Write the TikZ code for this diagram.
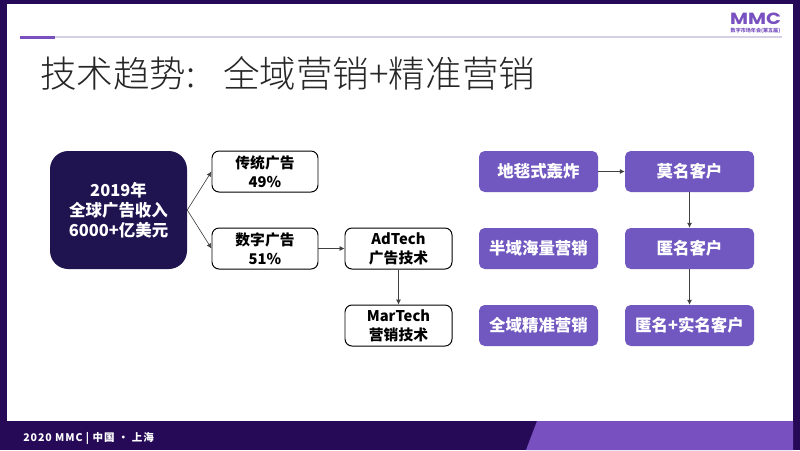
\documentclass[tikz,border=0pt]{standalone}
\usepackage{fontspec}
\setmainfont{Noto Sans CJK SC}
\newfontfamily\titlefont[UprightFont={* Light}]{Noto Sans CJK SC}
\newfontfamily\logofont{Poppins}
\newfontfamily\footfont[LetterSpace=9]{Noto Sans CJK SC}
\usetikzlibrary{arrows.meta}
\definecolor{darkpurple}{HTML}{260A58}
\definecolor{navybox}{HTML}{1F1450}
\definecolor{midpurple}{HTML}{7950C0}
\definecolor{boxpurple}{HTML}{7058C0}
\definecolor{rulegray}{HTML}{D5CFE5}
\tikzset{
  whitebox/.style={draw=black,line width=.7pt,fill=white,rounded corners=5,align=center,text=black,inner sep=0,font=\fontsize{10.5}{13.5}\selectfont\bfseries},
  purplebox/.style={fill=boxpurple,rounded corners=4,align=center,text=white,inner sep=0,font=\fontsize{11.7}{14}\selectfont\bfseries},
  conn/.style={draw=black!75,line width=.45pt,arrows={-{Latex[length=3.5pt,width=3.5pt]}}}
}
\begin{document}
\begin{tikzpicture}[x=0.025cm,y=-0.025cm]

\useasboundingbox (0,0) rectangle (800,450);

\fill [darkpurple] (0,0) rectangle (800,450);
\fill [white] (7,4) rectangle (793,421);
\fill [midpurple] (537,421) -- (793,421) -- (793,450) -- (526,450) -- cycle;

\fill [rulegray] (20,36) rectangle (782,38);
\fill [midpurple] (20,35.5) rectangle (55,38.5);

\node (title) [anchor=west,inner sep=0,text=black!85,font=\titlefont\fontsize{26}{30}\selectfont] at (40,73) {技术趋势:\hspace{19.5pt}全域营销+精准营销};
\node (logo) [inner sep=0,text=midpurple,xscale=1.21,font=\logofont\fontsize{11.5}{12}\selectfont\bfseries] at (755.5,19) {MMC};
\node (logosub) [inner sep=0,text=midpurple,font=\fontsize{3.6}{4}\selectfont\bfseries] at (755.5,31) {数字市场年会(第五届)};
\node (footer) [anchor=west,inner sep=0,text=white,font=\footfont\fontsize{7.5}{9}\selectfont\bfseries] at (23,438) {2020 MMC | 中国 · 上海};

% left side
\node (income) [fill=navybox,rounded corners=13,align=center,text=white,inner sep=0,minimum width=137*0.025cm,minimum height=118*0.025cm,font=\fontsize{11.7}{14.2}\selectfont\bfseries] at (118.5,210) {2019年\\全球广告收入\\6000+亿美元};

\node (trad) [whitebox,minimum width=106*0.025cm,minimum height=41*0.025cm] at (265,171.5) {传统广告\\49\%};
\node (digital) [whitebox,minimum width=106*0.025cm,minimum height=41*0.025cm] at (265,248.5) {数字广告\\51\%};
\node (adtech) [whitebox,minimum width=107*0.025cm,minimum height=41*0.025cm] at (398.5,248.5) {AdTech\\广告技术};
\node (martech) [whitebox,minimum width=107*0.025cm,minimum height=41*0.025cm] at (398.5,325.5) {MarTech\\营销技术};

\draw [conn] (income.east) -- (trad.west);
\draw [conn] (income.east) -- (digital.west);
\draw [conn] (digital) -- (adtech);
\draw [conn] (adtech) -- (martech);

% right side
\node (carpet) [purplebox,minimum width=119*0.025cm,minimum height=41*0.025cm] at (538.5,171.5) {地毯式轰炸};
\node (half) [purplebox,minimum width=119*0.025cm,minimum height=41*0.025cm] at (538.5,248.5) {半域海量营销};
\node (full) [purplebox,minimum width=119*0.025cm,minimum height=41*0.025cm] at (538.5,325.5) {全域精准营销};

\node (nameless) [purplebox,minimum width=129*0.025cm,minimum height=41*0.025cm] at (689.5,171.5) {莫名客户};
\node (anon) [purplebox,minimum width=129*0.025cm,minimum height=41*0.025cm] at (689.5,248.5) {匿名客户};
\node (real) [purplebox,minimum width=129*0.025cm,minimum height=41*0.025cm] at (689.5,325.5) {匿名+实名客户};

\draw [conn] (carpet) -- (nameless);
\draw [conn] (nameless) -- (anon);
\draw [conn] (anon) -- (real);

\end{tikzpicture}
\end{document}
